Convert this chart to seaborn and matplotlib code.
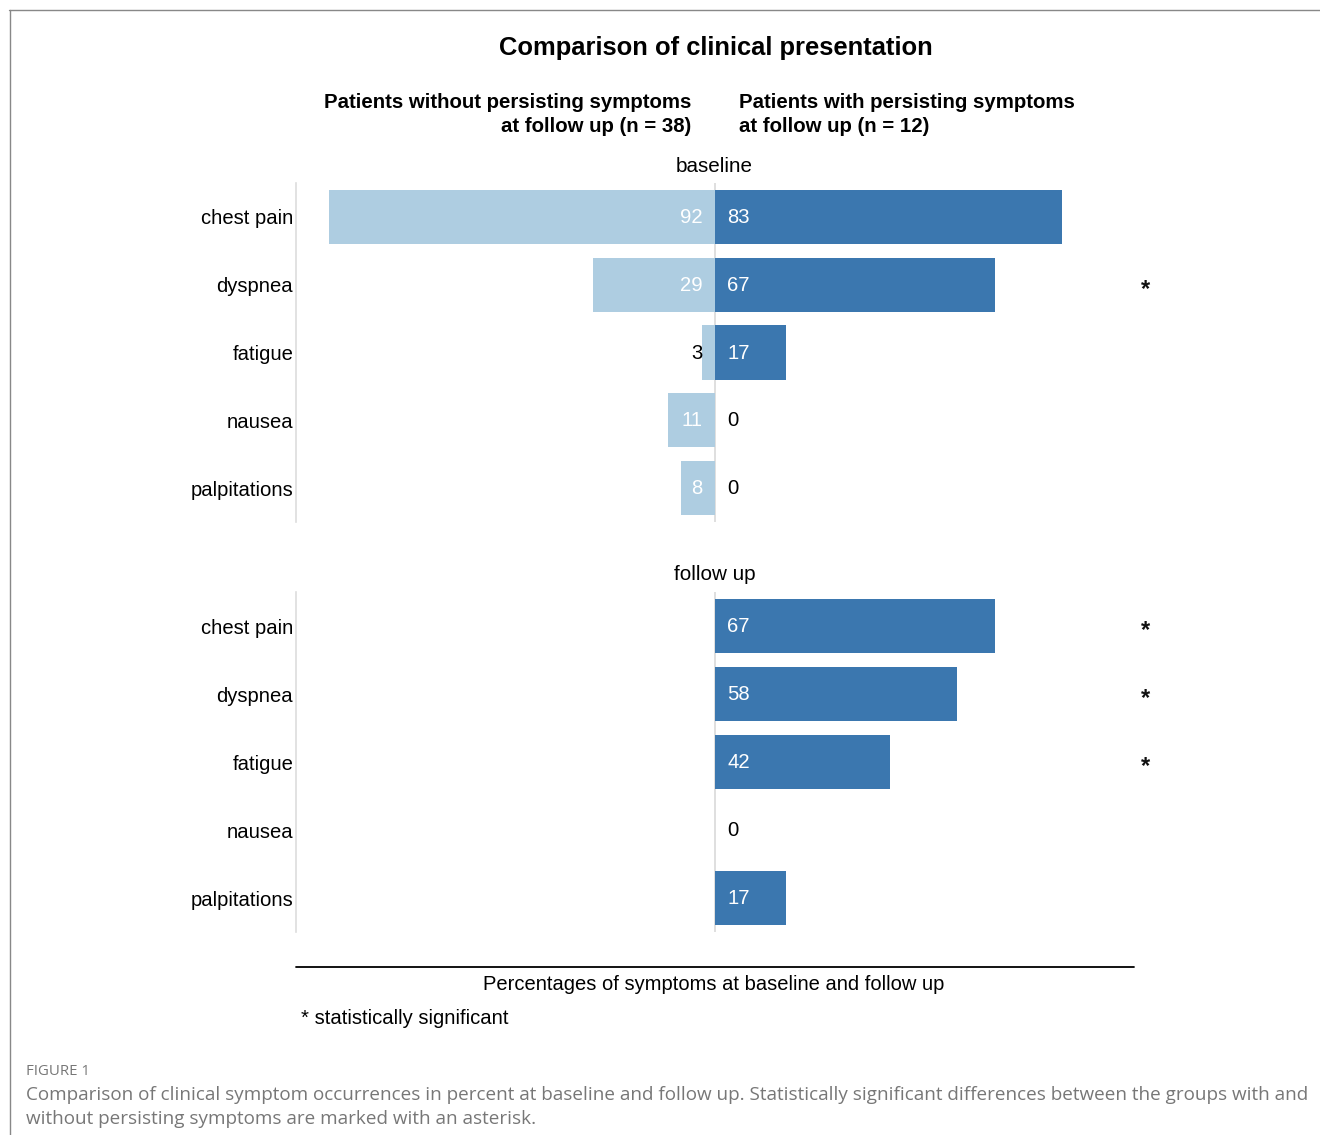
import matplotlib
matplotlib.use("Agg")
import matplotlib.pyplot as plt
from matplotlib.lines import Line2D
import seaborn as sns
import pandas as pd

sns.set_theme(style="white")
plt.rcParams['font.family'] = ['Liberation Sans', 'DejaVu Sans']
plt.rcParams['text.color'] = 'black'
plt.rcParams['axes.labelcolor'] = 'black'
plt.rcParams['xtick.color'] = 'black'
plt.rcParams['ytick.color'] = 'black'

symptoms = ["chest pain", "dyspnea", "fatigue", "nausea", "palpitations"]
base_without = [92, 29, 3, 11, 8]
base_with = [83, 67, 17, 0, 0]
fu_without = [0, 0, 0, 0, 0]
fu_with = [67, 58, 42, 0, 17]
sig_base = [False, True, False, False, False]
sig_fu = [True, True, True, False, False]

title = "Comparison of clinical presentation"
head_left = "Patients without persisting symptoms\nat follow up (n = 38)"
head_right = "Patients with persisting symptoms\nat follow up (n = 12)"
panel_titles = ["baseline", "follow up"]
xlabel = "Percentages of symptoms at baseline and follow up"
note = "* statistically significant"
fig_label = "FIGURE 1"
caption_lines = [
    "Comparison of clinical symptom occurrences in percent at baseline and follow up. Statistically significant differences between the groups with and",
    "without persisting symptoms are marked with an asterisk.",
]

LIGHT = "#aecde1"
DARK = "#3b77af"
FS = 14.6

W, H = 1320, 1135
fig = plt.figure(figsize=(W / 100, H / 100), dpi=100)

def fx(px):
    return px / W

def fy(py):
    return 1 - py / H

panels = [
    (183, 522, base_without, base_with, sig_base, True),
    (592, 932, fu_without, fu_with, sig_fu, False),
]

for i, (top, bot, lv, rv, sig, show_left) in enumerate(panels):
    ax = fig.add_axes([fx(296), fy(bot), fx(1133) - fx(296), (bot - top) / H])
    df = pd.DataFrame({"symptom": symptoms, "left": [-v for v in lv], "right": rv})
    if show_left:
        sns.barplot(data=df, x="left", y="symptom", color=LIGHT, width=0.8,
                    saturation=1, ax=ax, orient="h", linewidth=0, edgecolor="none")
    sns.barplot(data=df, x="right", y="symptom", color=DARK, width=0.8,
                saturation=1, ax=ax, orient="h", linewidth=0, edgecolor="none")
    ax.set_xlim(-100, 100)
    ax.set_ylim(4.5, -0.5)
    ax.axvline(0, color="#d9d9d9", lw=1.2, zorder=0)
    ax.set_xlabel("")
    ax.set_ylabel("")
    ax.set_xticks([])
    ax.tick_params(axis="y", length=0, pad=2, labelsize=FS)
    for s in ["top", "right", "bottom"]:
        ax.spines[s].set_visible(False)
    ax.spines["left"].set_color("#dddddd")
    ax.spines["left"].set_linewidth(1.2)
    for j in range(len(symptoms)):
        if show_left:
            v = lv[j]
            ax.text(-2.8, j + 0.01, str(v), ha="right", va="center", fontsize=FS,
                    color="white" if v >= 5 else "black")
        v = rv[j]
        ax.text(3.0, j + 0.01, str(v), ha="left", va="center", fontsize=FS,
                color="white" if v >= 5 else "black")
        if sig[j]:
            ax.text(103, j + 0.07, "*", ha="center", va="center", fontsize=17,
                    fontweight="bold", color="#111111", clip_on=False)
    ax.text(0, -0.5 - 17 / 68, panel_titles[i], ha="center", va="center",
            fontsize=FS + 0.3, color="black", clip_on=False)

fig.text(fx(716), fy(48.5), title, ha="center", va="center", fontsize=18.4,
         fontweight="bold")
fig.text(fx(691), fy(114.5), head_left, ha="right", va="center", fontsize=14.7,
         fontweight="bold", linespacing=1.4, multialignment="right")
fig.text(fx(739), fy(114.5), head_right, ha="left", va="center", fontsize=14.7,
         fontweight="bold", linespacing=1.4, multialignment="left")

fig.add_artist(Line2D([fx(296), fx(1134)], [fy(967), fy(967)], color="black", lw=1.3))
fig.text(fx(714), fy(984.5), xlabel, ha="center", va="center", fontsize=14.5)
fig.text(fx(301), fy(1018.5), note, ha="left", va="center", fontsize=FS)

# frame
fig.add_artist(Line2D([fx(9), 1.0], [fy(10), fy(10)], color="#888888", lw=1.0))
fig.add_artist(Line2D([fx(9.5), fx(9.5)], [fy(10), 0.0], color="#888888", lw=1.0))

fig.text(fx(26), fy(1071.5), fig_label, ha="left", va="center", fontsize=10.8,
         color="#777777", family=["Open Sans", "DejaVu Sans"])
for k, line in enumerate(caption_lines):
    fig.text(fx(26), fy(1094.5 + 24 * k), line, ha="left", va="center", fontsize=13.6,
             color="#777777", family=["Open Sans", "DejaVu Sans"])

fig.savefig("out.png", dpi=100)
